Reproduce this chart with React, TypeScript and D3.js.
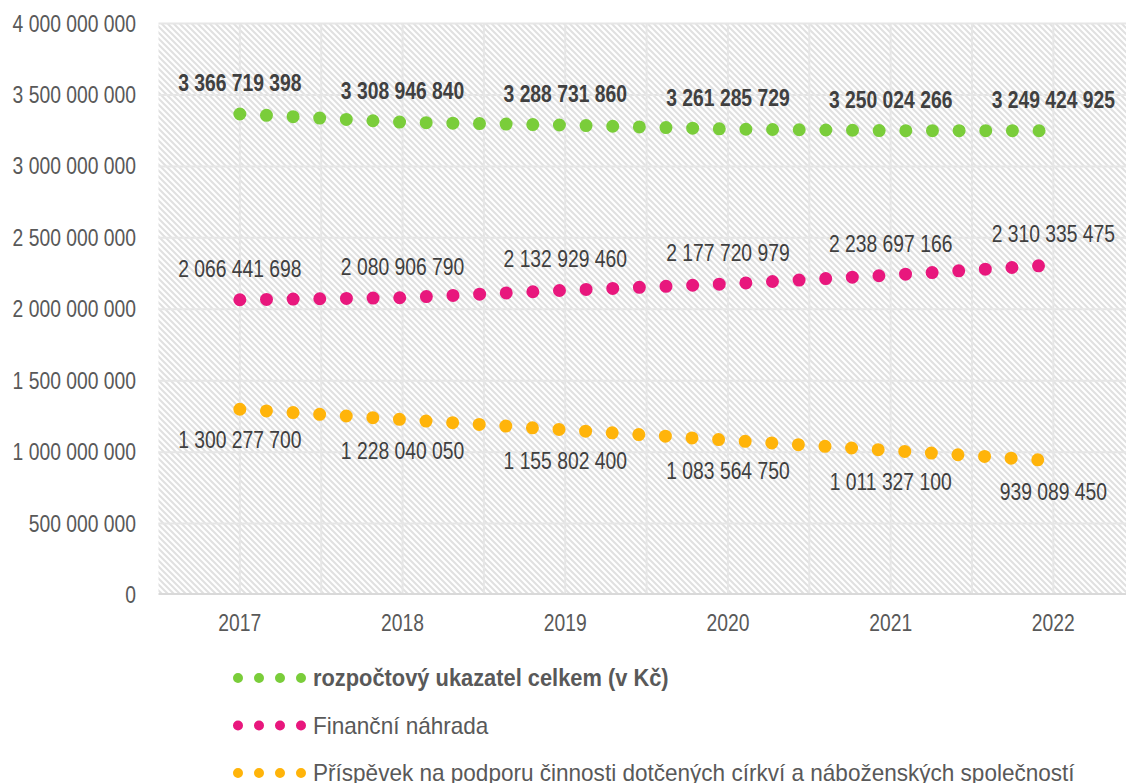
import React from 'react'
import * as d3 from 'd3'

const years = ['2017', '2018', '2019', '2020', '2021', '2022']
const celkem = [3366719398, 3308946840, 3288731860, 3261285729, 3250024266, 3249424925]
const nahrada = [2066441698, 2080906790, 2132929460, 2177720979, 2238697166, 2310335475]
const prispevek = [1300277700, 1228040050, 1155802400, 1083564750, 1011327100, 939089450]
const yTicks = [0, 500000000, 1000000000, 1500000000, 2000000000, 2500000000, 3000000000, 3500000000, 4000000000]

const series = [
  { name: 'rozpočtový ukazatel celkem (v Kč)', values: celkem, color: '#7acd3a', bold: true, above: true },
  { name: 'Finanční náhrada', values: nahrada, color: '#e8177d', bold: false, above: true },
  { name: 'Příspěvek na podporu činnosti dotčených církví a náboženských společností', values: prispevek, color: '#ffb40a', bold: false, above: false },
]

const font = '"Liberation Sans Narrow", "Arial Narrow", "Liberation Sans", sans-serif'
const fmt = (v: number) => d3.format(',')(v).replace(/,/g, ' ')

// Arial Narrow is not installed, so squeeze Liberation Sans horizontally
function NText(props: { x: number, y: number, anchor?: string, bold?: boolean, fill: string, sx?: number, children: string }) {
  return (
    <g transform={`translate(${props.x},${props.y}) scale(${props.sx || 0.84},1)`}>
      <text dy="0.35em" textAnchor={props.anchor || 'start'} fontSize={23}
        fontWeight={props.bold ? 'bold' : 'normal'} fill={props.fill}>{props.children}</text>
    </g>
  )
}

export default function App() {
  const width = 1126, height = 783
  const left = 158.5, catW = 162.7
  const x = d3.scaleBand().domain(years).range([left, left + catW * years.length])
  const y = d3.scaleLinear().domain([0, 4000000000]).range([595, 23.5])
  const cx = (yr: string) => (x(yr) as number) + x.bandwidth() / 2
  const line = d3.line<number>().x((_, i) => cx(years[i])).y(d => y(d))

  const [x0, x1] = x.range()
  const vGrid: number[] = []
  years.forEach(yr => { vGrid.push(cx(yr)); vGrid.push(x(yr) as number + x.bandwidth()) })

  return (
    <div style={{ position: 'absolute', left: 0, top: 0 }}>
      <svg width={width} height={height} style={{ display: 'block' }} fontFamily={font}>
        <defs>
          <pattern id="hatch" patternUnits="userSpaceOnUse" width="6" height="6">
            <rect width="6" height="6" fill="#ffffff" />
            <path d="M-1,-1 L7,7 M-4,2 L2,8 M2,-4 L8,2" stroke="#e0e0e0" strokeWidth="2" />
          </pattern>
        </defs>
        <rect x={x0} y={y(4000000000)} width={x1 - x0} height={y(0) - y(4000000000)} fill="url(#hatch)" />
        {yTicks.slice(1).map(t => (
          <line key={t} x1={x0} x2={x1} y1={y(t)} y2={y(t)} stroke="#e6e6e6" strokeWidth={2} />
        ))}
        {vGrid.map((v, i) => (
          <line key={i} x1={v} x2={v} y1={y(4000000000)} y2={y(0)} stroke="#e6e6e6" strokeWidth={2} />
        ))}
        <line x1={x0} x2={x1} y1={y(0) - 1} y2={y(0) - 1} stroke="#d9d9d9" strokeWidth={2} />

        {yTicks.map(t => (
          <NText key={t} x={136} y={y(t)} anchor="end" fill="#595959">{fmt(t)}</NText>
        ))}
        {years.map(yr => (
          <NText key={yr} x={cx(yr)} y={623} anchor="middle" fill="#595959">{yr}</NText>
        ))}

        {series.map(s => (
          <g key={s.name}>
            <path d={line(s.values) as string} fill="none" stroke={s.color} strokeWidth={13}
              strokeLinecap="round" strokeDasharray="0 26.65" />
            {s.values.map((v, i) => (
              <NText key={i} x={cx(years[i])} y={y(v) + (s.above ? -31 : 31)} anchor="middle"
                bold={s.bold} fill="#404040">{fmt(v)}</NText>
            ))}
          </g>
        ))}

        {series.map((s, i) => {
          const ly = 678 + i * 47.5
          return (
            <g key={s.name}>
              <line x1={238} x2={301.5} y1={ly} y2={ly} stroke={s.color} strokeWidth={10}
                strokeLinecap="round" strokeDasharray="0 21" />
              <NText x={313} y={ly} bold={s.bold} sx={s.bold ? 0.95 : 0.98} fill="#595959">{s.name}</NText>
            </g>
          )
        })}
      </svg>
    </div>
  )
}
